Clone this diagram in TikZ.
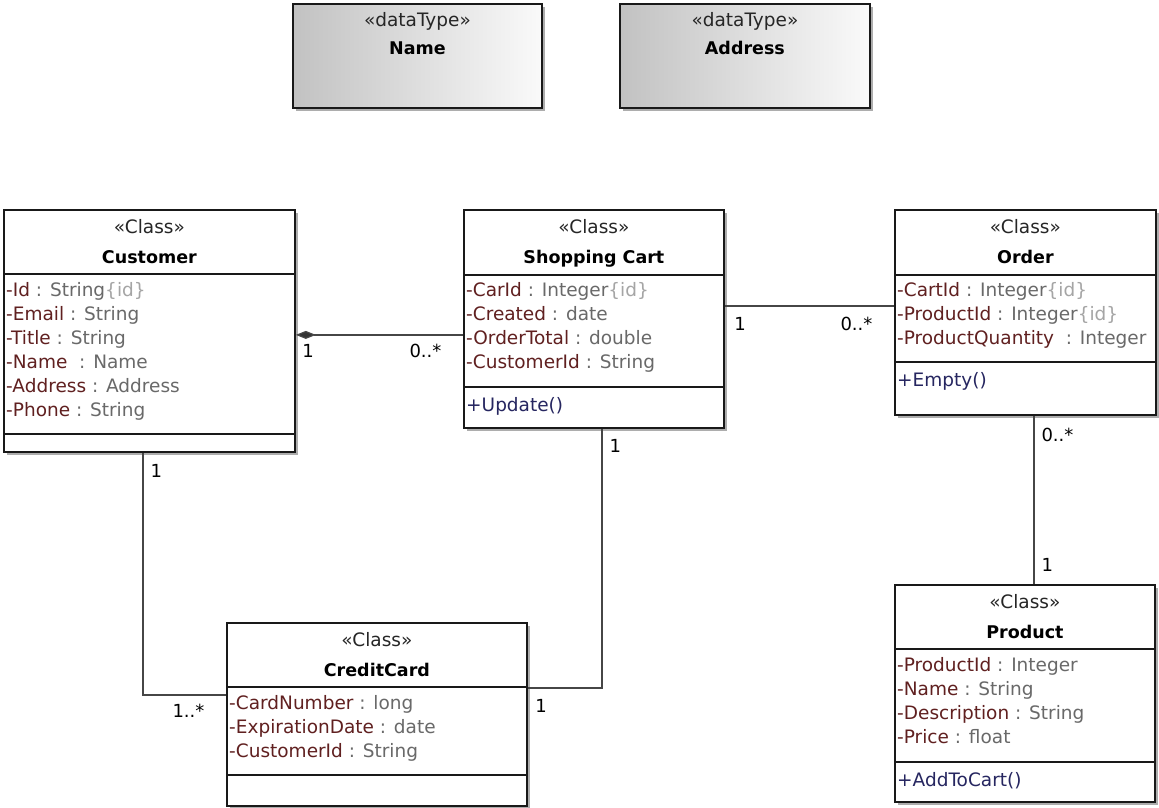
\documentclass[tikz,border=0pt]{standalone}
\usepackage{fontspec}
\setmainfont{DejaVu Sans}
\usetikzlibrary{positioning,arrows.meta,shadows}

\definecolor{attrname}{RGB}{96,32,32}
\definecolor{attrtype}{RGB}{105,105,105}
\definecolor{idgray}{RGB}{165,165,165}
\definecolor{opname}{RGB}{38,38,96}
\definecolor{edgegray}{RGB}{70,70,70}

\newcommand{\an}[1]{\textcolor{attrname}{#1}}
\newcommand{\idm}{\textcolor{idgray}{\{id\}}}

\begin{document}
\begin{tikzpicture}[
    x=1pt, y=-1pt,
    classbox/.style={draw=black!90, line width=1.8pt, fill=white, inner sep=0pt, anchor=north west,
        drop shadow={shadow xshift=3.5pt, shadow yshift=-3.5pt, fill=black!32, opacity=1}},
    typebox/.style={classbox, shading angle=60, left color=black!24, right color=black!2},
    divider/.style={draw=black!90, line width=1.5pt},
    stereo/.style={font=\fontsize{18.5}{20}\selectfont, text=black!85, anchor=base, inner sep=0pt},
    cname/.style={font=\bfseries\fontsize{17.5}{20}\selectfont, anchor=base, inner sep=0pt},
    members/.style={font=\fontsize{18.5}{24}\selectfont, text=attrtype, align=left, anchor=north west,
        inner sep=0pt, execute at begin node=\strut},
    ops/.style={members, text=opname},
    assoc/.style={draw=edgegray, line width=1.2pt},
    mult/.style={font=\fontsize{18}{20}\selectfont, inner sep=0pt}
]
\useasboundingbox (0,0) rectangle (1159,808);

% data types
\node[typebox, minimum width=249pt, minimum height=104pt] (name) at (292,3) {};
\node[stereo] (name-st) at ([yshift=-24pt]name.north) {«dataType»};
\node[cname] (name-nm) at ([yshift=-52pt]name.north) {Name};

\node[typebox, minimum width=250pt, minimum height=104pt] (address) at (619,3) {};
\node[stereo] (address-st) at ([yshift=-24pt]address.north) {«dataType»};
\node[cname] (address-nm) at ([yshift=-52pt]address.north) {Address};

% Customer
\node[classbox, minimum width=291pt, minimum height=242pt] (customer) at (3,209) {};
\draw[divider] ([yshift=-65pt]customer.north west) -- ([yshift=-65pt]customer.north east);
\draw[divider] ([yshift=-225pt]customer.north west) -- ([yshift=-225pt]customer.north east);
\node[stereo] (customer-st) at ([yshift=-24pt]customer.north) {«Class»};
\node[cname] (customer-nm) at ([yshift=-54pt]customer.north) {Customer};
\node[members] (customer-attrs) at ([xshift=3pt, yshift=-73pt]customer.north west)
    {\an{-Id} : String\idm\\ \an{-Email} : String\\ \an{-Title} : String\\
     \an{-Name}\ \ : Name\\ \an{-Address} : Address\\ \an{-Phone} : String};

% Shopping Cart
\node[classbox, minimum width=260pt, minimum height=218pt] (cart) at (463,209) {};
\draw[divider] ([yshift=-66pt]cart.north west) -- ([yshift=-66pt]cart.north east);
\draw[divider] ([yshift=-178pt]cart.north west) -- ([yshift=-178pt]cart.north east);
\node[stereo] (cart-st) at ([yshift=-24pt]cart.north) {«Class»};
\node[cname] (cart-nm) at ([yshift=-54pt]cart.north) {Shopping Cart};
\node[members] (cart-attrs) at ([xshift=3pt, yshift=-73pt]cart.north west)
    {\an{-CarId} : Integer\idm\\ \an{-Created} : date\\ \an{-OrderTotal} : double\\
     \an{-CustomerId} : String};
\node[ops] (cart-ops) at ([xshift=3pt, yshift=-185pt]cart.north west) {+Update()};

% Order
\node[classbox, minimum width=261pt, minimum height=205pt] (order) at (894,209) {};
\draw[divider] ([yshift=-66pt]order.north west) -- ([yshift=-66pt]order.north east);
\draw[divider] ([yshift=-153pt]order.north west) -- ([yshift=-153pt]order.north east);
\node[stereo] (order-st) at ([yshift=-24pt]order.north) {«Class»};
\node[cname] (order-nm) at ([yshift=-54pt]order.north) {Order};
\node[members] (order-attrs) at ([xshift=3pt, yshift=-73pt]order.north west)
    {\an{-CartId} : Integer\idm\\ \an{-ProductId} : Integer\idm\\
     \an{-ProductQuantity}\ \ : Integer};
\node[ops] (order-ops) at ([xshift=3pt, yshift=-160pt]order.north west) {+Empty()};

% CreditCard
\node[classbox, minimum width=300pt, minimum height=183pt] (credit) at (226,622) {};
\draw[divider] ([yshift=-65pt]credit.north west) -- ([yshift=-65pt]credit.north east);
\draw[divider] ([yshift=-153pt]credit.north west) -- ([yshift=-153pt]credit.north east);
\node[stereo] (credit-st) at ([yshift=-24pt]credit.north) {«Class»};
\node[cname] (credit-nm) at ([yshift=-54pt]credit.north) {CreditCard};
\node[members] (credit-attrs) at ([xshift=3pt, yshift=-73pt]credit.north west)
    {\an{-CardNumber} : long\\ \an{-ExpirationDate} : date\\ \an{-CustomerId} : String};

% Product
\node[classbox, minimum width=260pt, minimum height=217pt] (product) at (894,584) {};
\draw[divider] ([yshift=-65pt]product.north west) -- ([yshift=-65pt]product.north east);
\draw[divider] ([yshift=-178pt]product.north west) -- ([yshift=-178pt]product.north east);
\node[stereo] (product-st) at ([yshift=-24pt]product.north) {«Class»};
\node[cname] (product-nm) at ([yshift=-54pt]product.north) {Product};
\node[members] (product-attrs) at ([xshift=3pt, yshift=-73pt]product.north west)
    {\an{-ProductId} : Integer\\ \an{-Name} : String\\ \an{-Description} : String\\
     \an{-Price} : float};
\node[ops] (product-ops) at ([xshift=3pt, yshift=-185pt]product.north west) {+AddToCart()};

% associations
\draw[assoc, {Diamond[length=20pt, width=8pt, fill=black!80]}-]
    ([yshift=-4pt]customer.east) -- ([yshift=-4pt]customer.east -| cart.west)
    node[mult, pos=0, anchor=north west, xshift=6pt, yshift=-9pt] (m-cust-cart) {1}
    node[mult, pos=1, anchor=north east, xshift=-21pt, yshift=-9pt] (m-cart-cust) {0..*};
\draw[assoc] ([yshift=13pt]cart.east) -- ([yshift=13pt]cart.east -| order.west)
    node[mult, pos=0, anchor=north west, xshift=9pt, yshift=-11pt] (m-cart-order) {1}
    node[mult, pos=1, anchor=north east, xshift=-21pt, yshift=-11pt] (m-order-cart) {0..*};
\draw[assoc] ([xshift=-6.5pt]customer.south) |- ([yshift=19.5pt]credit.west)
    node[mult, pos=0, anchor=north west, xshift=7pt, yshift=-11pt] (m-cust-card) {1}
    node[mult, pos=1, anchor=north east, xshift=-21pt, yshift=-9pt] (m-card-cust) {1..*};
\draw[assoc] ([xshift=8pt]cart.south) |- ([yshift=26.5pt]credit.east)
    node[mult, pos=0, anchor=north west, xshift=7pt, yshift=-10pt] (m-cart-card) {1}
    node[mult, pos=1, anchor=north west, xshift=7pt, yshift=-11pt] (m-card-cart) {1};
\draw[assoc] ([xshift=8.5pt]order.south) -- ([xshift=8.5pt]order.south |- product.north)
    node[mult, pos=0, anchor=north west, xshift=7pt, yshift=-12pt] (m-order-prod) {0..*}
    node[mult, pos=1, anchor=south west, xshift=7pt, yshift=12pt] (m-prod-order) {1};
\end{tikzpicture}
\end{document}
